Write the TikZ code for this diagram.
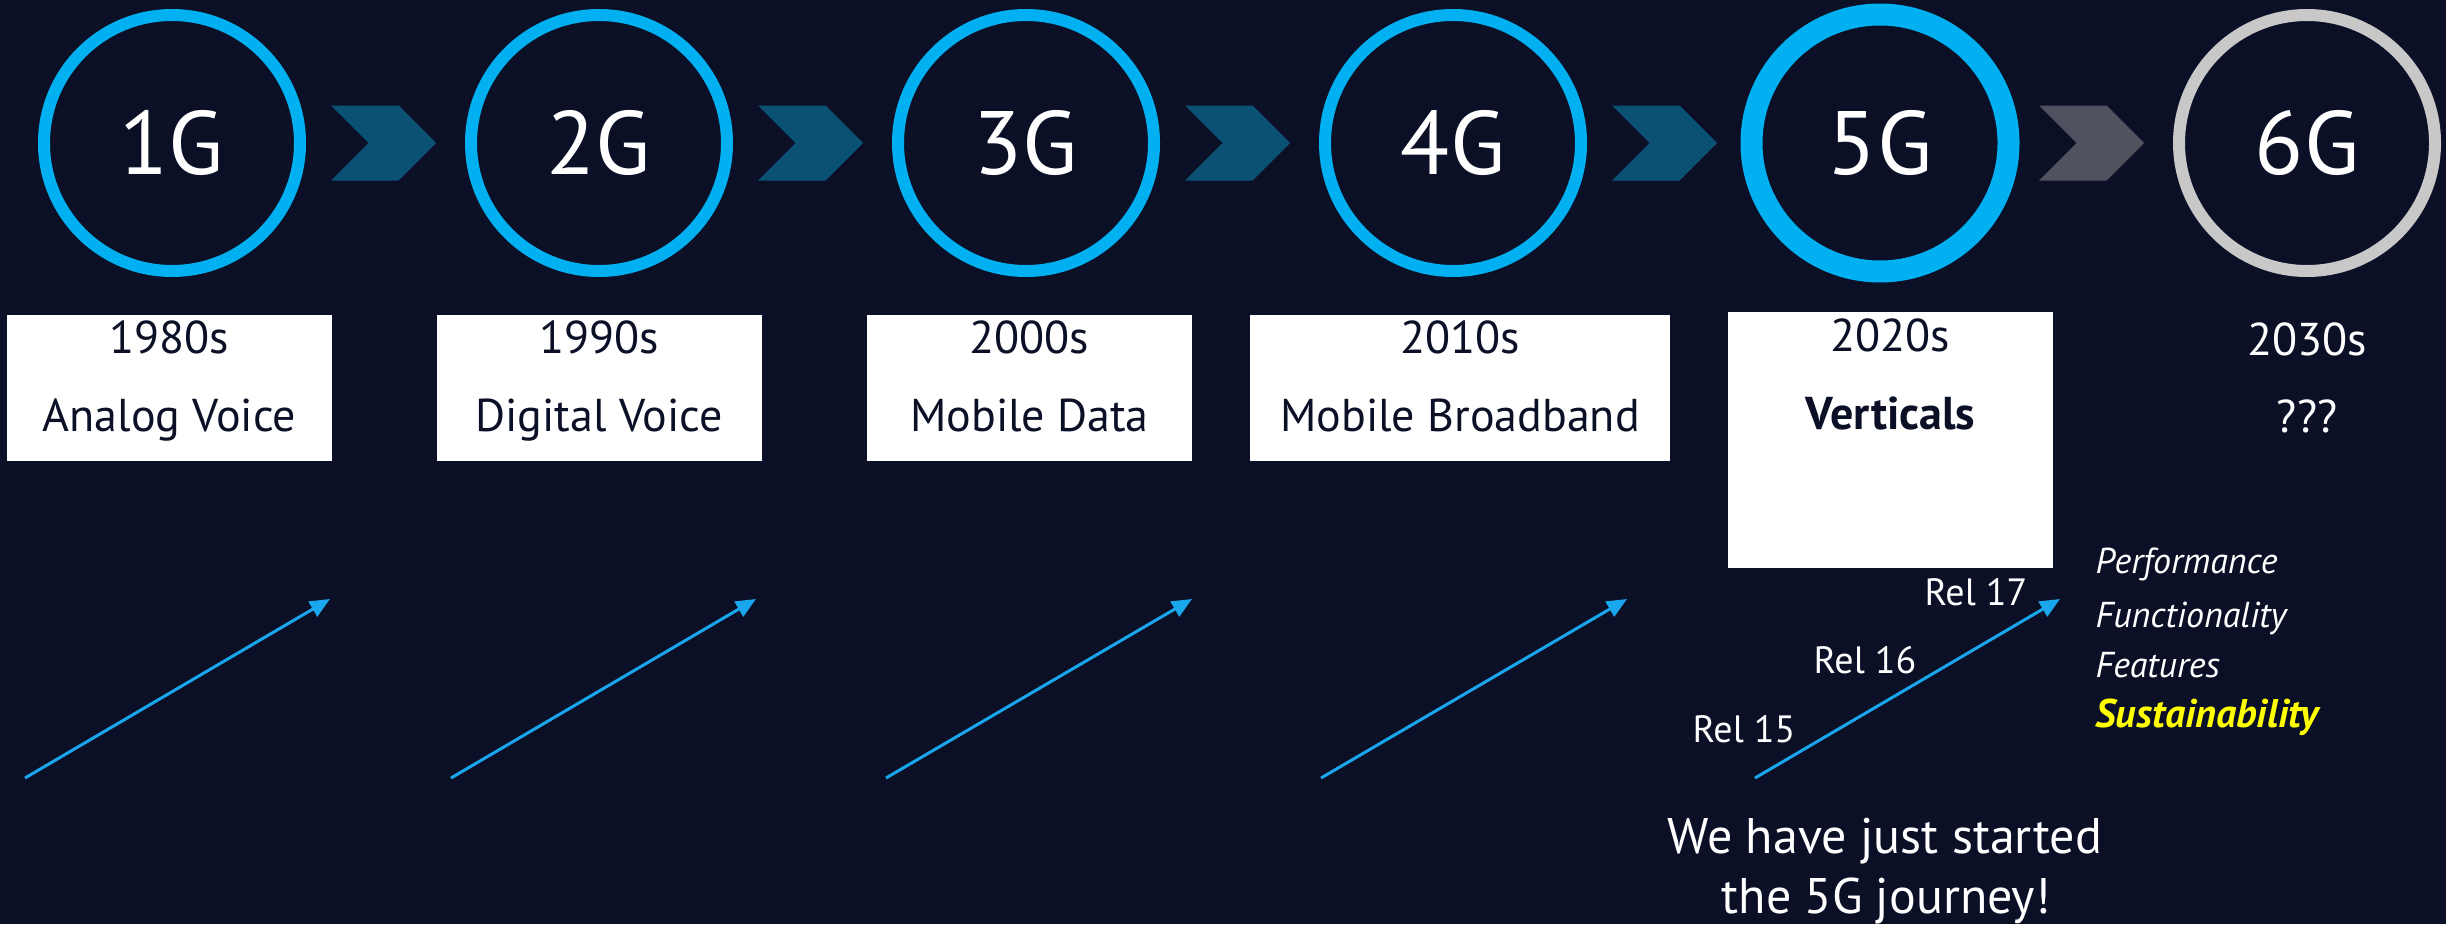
\documentclass[tikz,border=0pt]{standalone}
\usepackage{fontspec}
\setmainfont{PT Sans}
\usetikzlibrary{shapes,arrows.meta,positioning}

\definecolor{bgnavy}{RGB}{11,16,39}
\definecolor{ringblue}{RGB}{0,176,240}
\definecolor{chevblue}{RGB}{10,81,116}
\definecolor{chevgrey}{RGB}{80,83,95}
\definecolor{ringgrey}{RGB}{200,200,200}
\definecolor{relblue}{RGB}{26,166,236}
\definecolor{sunyellow}{RGB}{255,255,0}

\begin{document}
\begin{tikzpicture}[x=1pt,y=-1pt,node distance=427pt,on grid,
    gen/.style={circle,draw=ringblue,line width=12pt,minimum size=256pt,inner sep=0pt,
      text=white,font=\fontsize{90}{90}\selectfont},
    chev/.style={signal,signal to=east,signal from=west,signal pointer angle=90,
      fill=chevblue,minimum width=105pt,minimum height=75pt,inner sep=0pt},
    era/.style={fill=white,minimum width=325pt,minimum height=146pt,inner sep=0pt},
    year/.style={anchor=base,text=bgnavy,font=\fontsize{46}{46}\selectfont},
    rel/.style={-{Triangle[length=20pt,width=17pt]},color=relblue,line width=3pt},
    rellabel/.style={anchor=base,text=white,font=\fontsize{38}{38}\selectfont},
    aim/.style={anchor=base west,text=white,font=\fontsize{36}{36}\selectfont\itshape}]

      \useasboundingbox (0,0) rectangle (2446,924);
      \fill[bgnavy] (0,0) rectangle (2446,924);

      % generations
      \node[gen] (g_1) at (172,143) {1G};
      \node[gen] (g_2) [right=of g_1] {2G};
      \node[gen] (g_3) [right=of g_2] {3G};
      \node[gen] (g_4) [right=of g_3] {4G};
      \node[gen,line width=22pt,minimum size=257pt] (g_5) [right=of g_4] {5G};
      \node[gen,draw=ringgrey] (g_6) [right=of g_5] {6G};

      \node[chev] (chev_1) [right=211.5pt of g_1] {};
      \node[chev] (chev_2) [right=211.5pt of g_2] {};
      \node[chev] (chev_3) [right=211.5pt of g_3] {};
      \node[chev] (chev_4) [right=211.5pt of g_4] {};
      \node[chev,fill=chevgrey] (chev_5) [right=211.5pt of g_5] {};

      % decades
      \node[era] (box_1) [below left=245pt and 2.5pt of g_1] {};
      \node[era] (box_2) [below=245pt of g_2] {};
      \node[era] (box_3) [below right=245pt and 3.5pt of g_3] {};
      \node[era,minimum width=420pt] (box_4) [below right=245pt and 7pt of g_4] {};
      \node[era,minimum height=256pt] (box_5) [below right=297pt and 10.5pt of g_5] {};

      \node[year] (year_1) at ([yshift=-39pt]box_1.north) {1980s};
      \node[year] (use_1) at ([yshift=-117pt]box_1.north) {Analog Voice};
      \node[year] (year_2) at ([yshift=-39pt]box_2.north) {1990s};
      \node[year] (use_2) at ([yshift=-117pt]box_2.north) {Digital Voice};
      \node[year] (year_3) at ([yshift=-39pt]box_3.north) {2000s};
      \node[year] (use_3) at ([yshift=-117pt]box_3.north) {Mobile Data};
      \node[year] (year_4) at ([yshift=-39pt]box_4.north) {2010s};
      \node[year] (use_4) at ([yshift=-117pt]box_4.north) {Mobile Broadband};
      \node[year] (year_5) at ([yshift=-40pt]box_5.north) {2020s};
      \node[year,font=\fontsize{46}{46}\selectfont\bfseries] (use_5) at ([yshift=-118pt]box_5.north) {Verticals};
      \node[year,text=white] (year_6) at ([yshift=-212pt]g_6.center) {2030s};
      \node[year,text=white] (use_6) at ([yshift=-289pt]g_6.center) {???};

      % releases
      \coordinate (s_1) at (25,778);   \coordinate (e_1) at (330,599);
      \coordinate (s_2) at (451,778);  \coordinate (e_2) at (756,599);
      \coordinate (s_3) at (886,778);  \coordinate (e_3) at (1192,599);
      \coordinate (s_4) at (1321,778); \coordinate (e_4) at (1627,599);
      \coordinate (s_5) at (1755,778); \coordinate (e_5) at (2060,599);

      \draw[rel] (s_1) -- (e_1);
      \draw[rel] (s_2) -- (e_2);
      \draw[rel] (s_3) -- (e_3);
      \draw[rel] (s_4) -- (e_4);
      \draw[rel] (s_5) -- (e_5);

      \node[rellabel] (rel_15) at (1744,742) {Rel 15};
      \node[rellabel] (rel_16) at (1865,673) {Rel 16};
      \node[rellabel] (rel_17) at (1976,605) {Rel 17};

      \node[aim] (aim_1) at (2092,573) {Performance};
      \node[aim] (aim_2) at (2092,627) {Functionality};
      \node[aim] (aim_3) at (2092,677) {Features};
      \node[aim,text=sunyellow,font=\fontsize{40}{40}\selectfont\bfseries\itshape] (aim_4) at (2092,727) {Sustainability};

      \node[anchor=base,text=white,font=\fontsize{50}{50}\selectfont] (msg_1) at (1885,853) {We have just started};
      \node[anchor=base,text=white,font=\fontsize{50}{50}\selectfont] (msg_2) at (1886,913) {the 5G journey!};
    \end{tikzpicture}
\end{document}
